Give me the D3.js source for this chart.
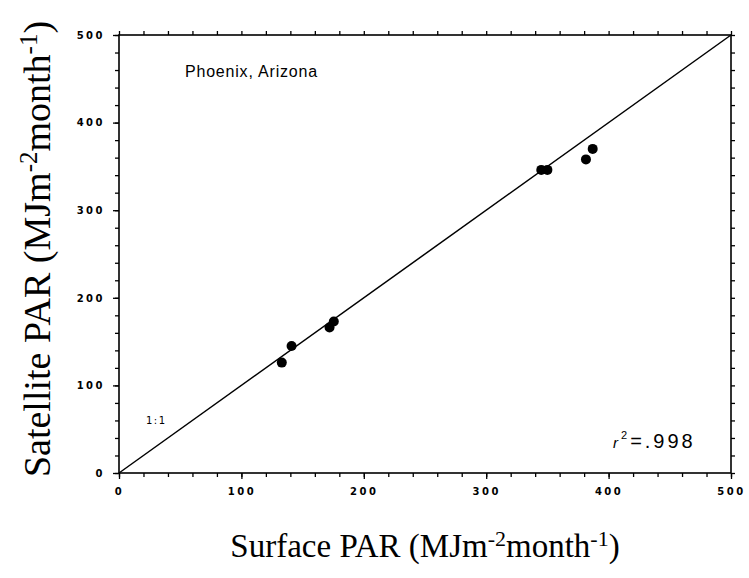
<!DOCTYPE html>
<html><head><meta charset="utf-8">
<script src="https://cdn.jsdelivr.net/npm/d3@7"></script>
<style>body{margin:0;background:#fff}</style>
</head><body>
<svg id="c" width="749" height="578"></svg>
<script>
const surfacePAR = [133, 141, 172, 175.5, 345, 350, 381.5, 387];
const satellitePAR = [126, 145, 166, 173, 346, 346, 358, 370];
const majorTicks = [0, 100, 200, 300, 400, 500];
const minorTicks = d3.range(0, 501, 20);
const title = "Phoenix, Arizona";
const r2Label = ".998";

const svg = d3.select("#c");
const L = 119, R = 731, T = 35, B = 473;
const x = d3.scaleLinear().domain([0, 500]).range([L, R]);
const y = d3.scaleLinear().domain([0, 500]).range([B, T]);

const axStyle = g => {
  g.select(".domain").remove();
  g.selectAll("line").attr("stroke", "#000").attr("stroke-width", 1.3);
};
svg.append("g").attr("transform", `translate(0,${B})`)
  .call(d3.axisBottom(x).tickValues(minorTicks).tickSize(4).tickFormat("")).call(axStyle);
svg.append("g").attr("transform", `translate(0,${T})`)
  .call(d3.axisTop(x).tickValues(minorTicks).tickSize(4).tickFormat("")).call(axStyle);
svg.append("g").attr("transform", `translate(${L},0)`)
  .call(d3.axisLeft(y).tickValues(minorTicks).tickSize(4).tickFormat("")).call(axStyle);
svg.append("g").attr("transform", `translate(${R},0)`)
  .call(d3.axisRight(y).tickValues(minorTicks).tickSize(4).tickFormat("")).call(axStyle);

const lab = g => {
  g.select(".domain").remove();
  g.selectAll("line").attr("stroke", "#000").attr("stroke-width", 1.3);
  g.selectAll("text").attr("font-family", "DejaVu Sans").attr("font-weight", "bold")
    .attr("font-size", 10).attr("letter-spacing", "2.5px").attr("fill", "#000");
};
svg.append("g").attr("transform", `translate(0,${B})`)
  .call(d3.axisBottom(x).tickValues(majorTicks).tickSize(6).tickPadding(9)).call(lab);
svg.append("g").attr("transform", `translate(${L},0)`)
  .call(d3.axisLeft(y).tickValues(majorTicks).tickSize(6).tickPadding(8)).call(lab);

svg.append("rect").attr("x", L).attr("y", T).attr("width", R - L).attr("height", B - T)
  .attr("fill", "none").attr("stroke", "#000").attr("stroke-width", 1.6);

svg.append("line").attr("x1", x(0)).attr("y1", y(0)).attr("x2", x(500)).attr("y2", y(500))
  .attr("stroke", "#000").attr("stroke-width", 1.5);

svg.selectAll("circle.p").data(surfacePAR).enter().append("circle")
  .attr("cx", d => x(d)).attr("cy", (d, i) => y(satellitePAR[i])).attr("r", 5).attr("fill", "#000");

svg.append("text").attr("x", 185).attr("y", 77).attr("font-family", "Liberation Sans")
  .attr("font-size", 16).attr("letter-spacing", "0.8px").text(title);
svg.append("text").attr("x", 146).attr("y", 424).attr("font-family", "DejaVu Sans")
  .attr("font-size", 10).attr("letter-spacing", "1.5px").text("1:1");
const r2 = svg.append("text").attr("x", 613).attr("y", 448).attr("font-family", "Liberation Sans")
  .attr("font-size", 20).attr("letter-spacing", "3px");
r2.append("tspan").attr("font-style", "italic").attr("font-size", 15).text("r");
r2.append("tspan").attr("dy", -9).attr("font-size", 11).text("2");
r2.append("tspan").attr("dy", 9).text("=" + r2Label);

const xt = svg.append("text").attr("x", 425).attr("y", 557).attr("text-anchor", "middle")
  .attr("font-family", "Liberation Serif").attr("font-size", 33);
xt.append("tspan").text("Surface PAR (MJm");
xt.append("tspan").attr("dy", -11).attr("font-size", 22).text("-2");
xt.append("tspan").attr("dy", 11).text("month");
xt.append("tspan").attr("dy", -11).attr("font-size", 22).text("-1");
xt.append("tspan").attr("dy", 11).text(")");

const yt = svg.append("text").attr("transform", "translate(50,249) rotate(-90)").attr("text-anchor", "middle")
  .attr("font-family", "Liberation Serif").attr("font-size", 38);
yt.append("tspan").text("Satellite PAR (MJm");
yt.append("tspan").attr("dy", -13).attr("font-size", 25).text("-2");
yt.append("tspan").attr("dy", 13).text("month");
yt.append("tspan").attr("dy", -13).attr("font-size", 25).text("-1");
yt.append("tspan").attr("dy", 13).text(")");
</script>
</body></html>
